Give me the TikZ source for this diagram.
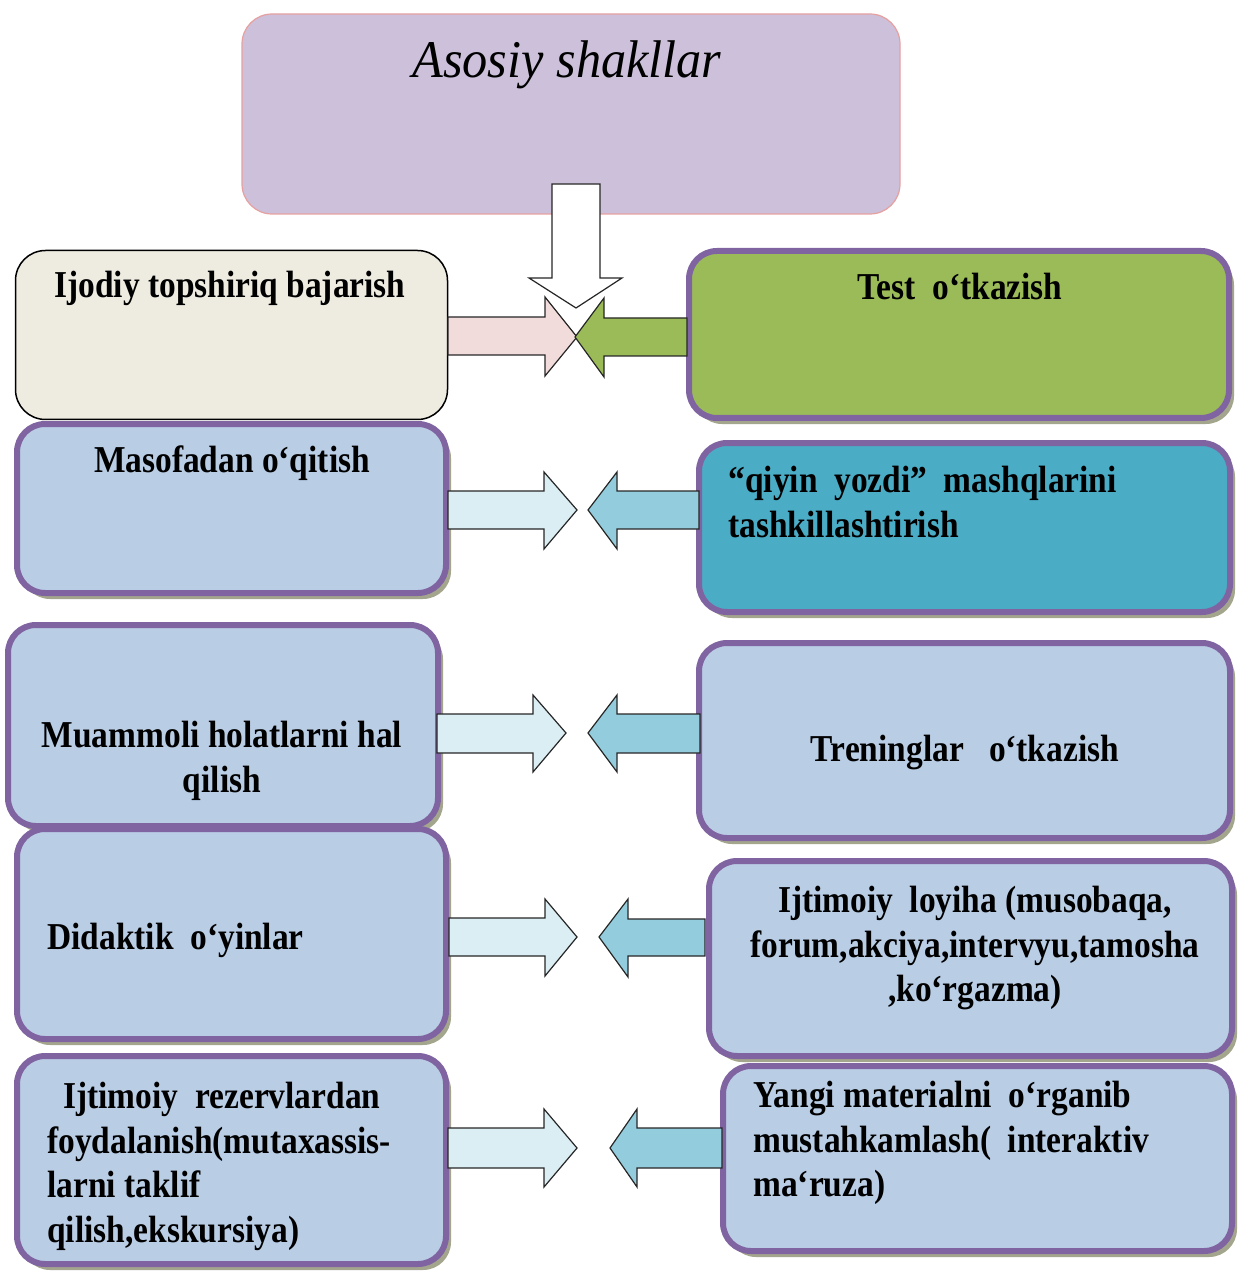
\documentclass[tikz,border=0pt]{standalone}
\usepackage{fontspec}
\setmainfont{Liberation Serif}[FakeStretch=0.88]
\newfontfamily\titlefont{Liberation Serif}[FakeStretch=0.95]
\usepackage{tikz}
\usetikzlibrary{shadows}

\definecolor{asosfill}{HTML}{CCC0DA}
\definecolor{asosline}{HTML}{E6A0A0}
\definecolor{ijodfill}{HTML}{EEECE1}
\definecolor{greenfill}{HTML}{9BBB59}
\definecolor{bluefill}{HTML}{B9CDE5}
\definecolor{tealfill}{HTML}{4BACC6}
\definecolor{purpline}{HTML}{8064A2}
\definecolor{shadowc}{HTML}{A3A68C}
\definecolor{pinkarr}{HTML}{F2DCDB}
\definecolor{lightarr}{HTML}{DBEEF4}
\definecolor{midarr}{HTML}{93CDDD}

\tikzset{
  pbox/.style={draw=purpline, line width=3pt, rounded corners=14pt, inner sep=0pt,
    drop shadow={shadow xshift=2.5pt, shadow yshift=-3pt, fill=shadowc, opacity=1}},
  txt/.style={font=\bfseries\fontsize{19}{22.3}\selectfont, inner sep=0pt},
  blockarr/.style={draw=black!85, line width=0.6pt, line join=miter}
}

\begin{document}
\begin{tikzpicture}[x=0.5pt,y=-0.5pt]
\useasboundingbox (0,0) rectangle (1237,1272);

% top box
\node[draw=asosline, line width=0.6pt, fill=asosfill, rounded corners=15pt,
  minimum width=329pt, minimum height=100pt] (asosiy) at (571,114) {};
\node[font=\titlefont\itshape\fontsize{26.5}{30}\selectfont, inner sep=0pt, anchor=base]
  (asosiytxt) at (567,78) {Asosiy shakllar};

% row 1
\node[draw=black, line width=0.75pt, fill=ijodfill, rounded corners=15pt,
  minimum width=216pt, minimum height=84.5pt] (ijodiy) at (231.5,335) {};
\node[txt, anchor=base] (ijodiytxt) at (230,298) {Ijodiy~topshiriq~bajarish};
\node[pbox, fill=greenfill, minimum width=270pt, minimum height=83.5pt] (test) at (959,334.5) {};
\node[txt, anchor=base] (testtxt) at (960,300) {Test~~o‘tkazish};

\draw[blockarr, fill=pinkarr] (448,317) -- (545,317) -- (545,297) -- (577,337)
  -- (545,376) -- (545,355) -- (448,355) -- cycle;
\draw[blockarr, fill=greenfill] (687,318) -- (604,318) -- (604,298) -- (575,337)
  -- (604,377) -- (604,356) -- (687,356) -- cycle;
\draw[blockarr, fill=white] (552,184) -- (600,184) -- (600,278) -- (622,278)
  -- (576,308) -- (529,278) -- (552,278) -- cycle;

% row 2
\node[pbox, fill=bluefill, minimum width=214.5pt, minimum height=84.5pt] (masofa) at (231.5,508.5) {};
\node[txt, anchor=base] (masofatxt) at (232,472) {Masofadan~o‘qitish};
\node[pbox, fill=tealfill, minimum width=265.5pt, minimum height=84.5pt] (qiyin) at (964.5,527.5) {};
\node[txt, anchor=north west, align=left] (qiyintxt) at (728,466)
  {“qiyin~~yozdi”~~mashqlarini\\tashkillashtirish};

\draw[blockarr, fill=lightarr] (448,491) -- (544,491) -- (544,472) -- (577,510)
  -- (544,549) -- (544,529) -- (448,529) -- cycle;
\draw[blockarr, fill=midarr] (699,491) -- (617,491) -- (617,472) -- (588,510)
  -- (617,549) -- (617,529) -- (699,529) -- cycle;

% row 3
\node[pbox, fill=bluefill, minimum width=215pt, minimum height=100.5pt] (muammo) at (223,725.5) {};
\node[txt, anchor=north, align=center] (muammotxt) at (222,721)
  {Muammoli~holatlarni~hal\\qilish};
\node[pbox, fill=bluefill, minimum width=265.5pt, minimum height=97.5pt] (trening) at (964.5,740.5) {};
\node[txt, anchor=base] (treningtxt) at (965,761) {Treninglar~~~o‘tkazish};

\draw[blockarr, fill=lightarr] (437,714) -- (533,714) -- (533,695) -- (566,733)
  -- (533,772) -- (533,753) -- (437,753) -- cycle;
\draw[blockarr, fill=midarr] (700,714) -- (617,714) -- (617,695) -- (588,733)
  -- (617,772) -- (617,753) -- (700,753) -- cycle;

% row 4
\node[pbox, fill=bluefill, minimum width=214.5pt, minimum height=105pt] (didakt) at (231.5,934) {};
\node[txt, anchor=base west] (didakttxt) at (47,949) {Didaktik~~o‘yinlar};
\node[pbox, fill=bluefill, minimum width=261.5pt, minimum height=97.5pt] (loyiha) at (970.5,958.5) {};
\node[txt, anchor=north, align=center] (loyihatxt) at (975,886)
  {Ijtimoiy~~loyiha (musobaqa,\\forum,akciya,intervyu,tamosha\\,ko‘rgazma)};

\draw[blockarr, fill=lightarr] (449,918) -- (545,918) -- (545,899) -- (577,937)
  -- (545,976) -- (545,956) -- (449,956) -- cycle;
\draw[blockarr, fill=midarr] (705,919) -- (628,919) -- (628,899) -- (599,937)
  -- (628,977) -- (628,956) -- (705,956) -- cycle;

% row 5
\node[pbox, fill=bluefill, minimum width=214.5pt, minimum height=104pt] (rezerv) at (231.5,1160) {};
\node[txt, anchor=north west, align=left] (rezervtxt) at (47,1082)
  {\hspace*{8pt}Ijtimoiy~~rezervlardan\\foydalanish(mutaxassis-\\larni taklif\\qilish,ekskursiya)};
\node[pbox, fill=bluefill, minimum width=254.5pt, minimum height=92.5pt] (yangi) at (977.5,1158.5) {};
\node[txt, anchor=north west, align=left] (yangitxt) at (753,1081)
  {Yangi materialni~~o‘rganib\\mustahkamlash(~~interaktiv\\ma‘ruza)};

\draw[blockarr, fill=lightarr] (448,1128) -- (544,1128) -- (544,1109) -- (577,1148)
  -- (544,1187) -- (544,1168) -- (448,1168) -- cycle;
\draw[blockarr, fill=midarr] (722,1128) -- (637,1128) -- (637,1109) -- (610,1148)
  -- (637,1187) -- (637,1168) -- (722,1168) -- cycle;
\end{tikzpicture}
\end{document}
